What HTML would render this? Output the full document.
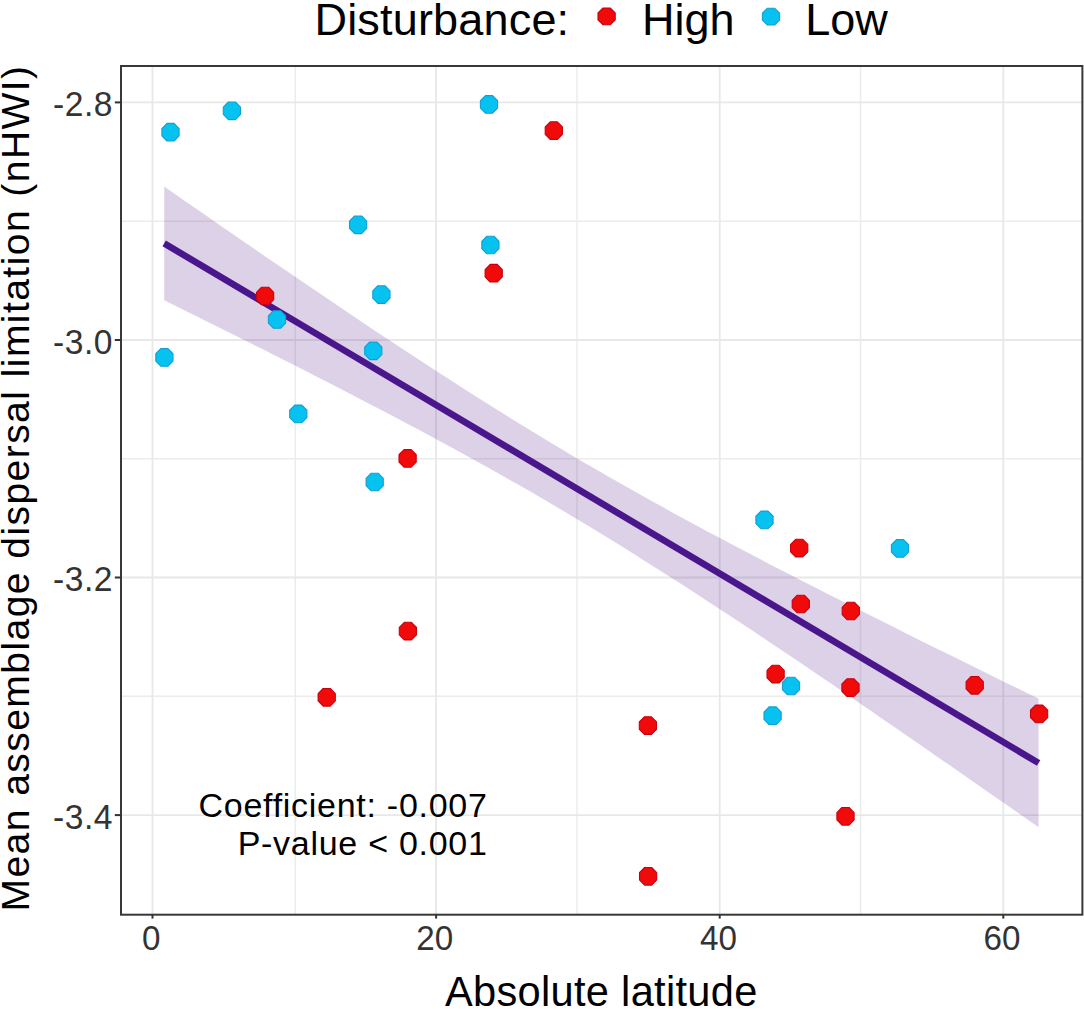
<!DOCTYPE html><html><head><meta charset="utf-8"><style>html,body{margin:0;padding:0;background:#fff;width:1084px;height:1009px;overflow:hidden}svg{display:block}text{font-family:"Liberation Sans",sans-serif}</style></head><body>
<svg width="1084" height="1009" viewBox="0 0 1084 1009">
<rect width="1084" height="1009" fill="#fff"/>
<line x1="295.3" y1="66" x2="295.3" y2="914.7" stroke="#ececec" stroke-width="1.5"/>
<line x1="577.0" y1="66" x2="577.0" y2="914.7" stroke="#ececec" stroke-width="1.5"/>
<line x1="860.5" y1="66" x2="860.5" y2="914.7" stroke="#ececec" stroke-width="1.5"/>
<line x1="121" y1="221.2" x2="1082.4" y2="221.2" stroke="#ececec" stroke-width="1.5"/>
<line x1="121" y1="458.8" x2="1082.4" y2="458.8" stroke="#ececec" stroke-width="1.5"/>
<line x1="121" y1="696.3" x2="1082.4" y2="696.3" stroke="#ececec" stroke-width="1.5"/>
<line x1="152.5" y1="66" x2="152.5" y2="914.7" stroke="#e8e8e8" stroke-width="1.8"/>
<line x1="436.1" y1="66" x2="436.1" y2="914.7" stroke="#e8e8e8" stroke-width="1.8"/>
<line x1="719.7" y1="66" x2="719.7" y2="914.7" stroke="#e8e8e8" stroke-width="1.8"/>
<line x1="1003.3" y1="66" x2="1003.3" y2="914.7" stroke="#e8e8e8" stroke-width="1.8"/>
<line x1="121" y1="102.4" x2="1082.4" y2="102.4" stroke="#e8e8e8" stroke-width="1.8"/>
<line x1="121" y1="340.0" x2="1082.4" y2="340.0" stroke="#e8e8e8" stroke-width="1.8"/>
<line x1="121" y1="577.5" x2="1082.4" y2="577.5" stroke="#e8e8e8" stroke-width="1.8"/>
<line x1="121" y1="815.1" x2="1082.4" y2="815.1" stroke="#e8e8e8" stroke-width="1.8"/>
<polygon points="164.2,186.6 175.3,194.3 186.3,201.9 197.4,209.6 208.5,217.3 219.5,224.9 230.6,232.6 241.7,240.2 252.7,247.8 263.8,255.4 274.9,263.0 286.0,270.6 297.0,278.1 308.1,285.6 319.2,293.1 330.2,300.6 341.3,308.1 352.4,315.5 363.4,323.0 374.5,330.4 385.6,337.7 396.6,345.0 407.7,352.3 418.8,359.6 429.8,366.8 440.9,374.0 452.0,381.1 463.0,388.2 474.1,395.3 485.2,402.3 496.3,409.2 507.3,416.1 518.4,423.0 529.5,429.8 540.5,436.5 551.6,443.2 562.7,449.8 573.7,456.4 584.8,462.9 595.9,469.3 606.9,475.7 618.0,482.0 629.1,488.3 640.1,494.5 651.2,500.7 662.3,506.8 673.3,512.9 684.4,518.9 695.5,524.9 706.5,530.9 717.6,536.8 728.7,542.7 739.8,548.5 750.8,554.3 761.9,560.1 773.0,565.9 784.0,571.6 795.1,577.3 806.2,582.9 817.2,588.6 828.3,594.2 839.4,599.8 850.4,605.4 861.5,611.0 872.6,616.6 883.6,622.1 894.7,627.6 905.8,633.2 916.8,638.7 927.9,644.2 939.0,649.7 950.1,655.1 961.1,660.6 972.2,666.0 983.3,671.5 994.3,676.9 1005.4,682.4 1016.5,687.8 1027.5,693.2 1038.6,698.6 1038.6,827.3 1027.5,819.6 1016.5,811.8 1005.4,804.1 994.3,796.4 983.3,788.7 972.2,781.0 961.1,773.3 950.1,765.6 939.0,757.9 927.9,750.2 916.8,742.6 905.8,734.9 894.7,727.3 883.6,719.7 872.6,712.1 861.5,704.5 850.4,696.9 839.4,689.3 828.3,681.8 817.2,674.3 806.2,666.8 795.1,659.3 784.0,651.8 773.0,644.4 761.9,637.0 750.8,629.6 739.8,622.3 728.7,615.0 717.6,607.7 706.5,600.5 695.5,593.3 684.4,586.1 673.3,579.0 662.3,571.9 651.2,564.9 640.1,557.9 629.1,551.0 618.0,544.1 606.9,537.3 595.9,530.5 584.8,523.8 573.7,517.2 562.7,510.6 551.6,504.0 540.5,497.6 529.5,491.1 518.4,484.8 507.3,478.5 496.3,472.2 485.2,466.0 474.1,459.9 463.0,453.8 452.0,447.7 440.9,441.7 429.8,435.7 418.8,429.8 407.7,423.9 396.6,418.0 385.6,412.2 374.5,406.4 363.4,400.7 352.4,394.9 341.3,389.2 330.2,383.5 319.2,377.9 308.1,372.2 297.0,366.6 286.0,361.0 274.9,355.4 263.8,349.8 252.7,344.3 241.7,338.7 230.6,333.2 219.5,327.7 208.5,322.2 197.4,316.7 186.3,311.2 175.3,305.8 164.2,300.3" fill="#551A8B" fill-opacity="0.2"/>
<line x1="164.2" y1="243.4" x2="1038.6" y2="763.0" stroke="#4a168c" stroke-width="6.6"/>
<polygon points="562.40,134.25 557.36,139.40 550.24,139.40 545.20,134.25 545.20,126.95 550.24,121.80 557.36,121.80 562.40,126.95" fill="#f00a0a" stroke="#c80010" stroke-width="1.1" stroke-linejoin="round"/>
<polygon points="502.30,276.85 497.26,282.00 490.14,282.00 485.10,276.85 485.10,269.55 490.14,264.40 497.26,264.40 502.30,269.55" fill="#f00a0a" stroke="#c80010" stroke-width="1.1" stroke-linejoin="round"/>
<polygon points="273.70,299.65 268.66,304.80 261.54,304.80 256.50,299.65 256.50,292.35 261.54,287.20 268.66,287.20 273.70,292.35" fill="#f00a0a" stroke="#c80010" stroke-width="1.1" stroke-linejoin="round"/>
<polygon points="416.20,462.05 411.16,467.20 404.04,467.20 399.00,462.05 399.00,454.75 404.04,449.60 411.16,449.60 416.20,454.75" fill="#f00a0a" stroke="#c80010" stroke-width="1.1" stroke-linejoin="round"/>
<polygon points="807.80,551.75 802.76,556.90 795.64,556.90 790.60,551.75 790.60,544.45 795.64,539.30 802.76,539.30 807.80,544.45" fill="#f00a0a" stroke="#c80010" stroke-width="1.1" stroke-linejoin="round"/>
<polygon points="809.40,607.65 804.36,612.80 797.24,612.80 792.20,607.65 792.20,600.35 797.24,595.20 804.36,595.20 809.40,600.35" fill="#f00a0a" stroke="#c80010" stroke-width="1.1" stroke-linejoin="round"/>
<polygon points="859.40,614.65 854.36,619.80 847.24,619.80 842.20,614.65 842.20,607.35 847.24,602.20 854.36,602.20 859.40,607.35" fill="#f00a0a" stroke="#c80010" stroke-width="1.1" stroke-linejoin="round"/>
<polygon points="416.50,634.75 411.46,639.90 404.34,639.90 399.30,634.75 399.30,627.45 404.34,622.30 411.46,622.30 416.50,627.45" fill="#f00a0a" stroke="#c80010" stroke-width="1.1" stroke-linejoin="round"/>
<polygon points="335.30,700.95 330.26,706.10 323.14,706.10 318.10,700.95 318.10,693.65 323.14,688.50 330.26,688.50 335.30,693.65" fill="#f00a0a" stroke="#c80010" stroke-width="1.1" stroke-linejoin="round"/>
<polygon points="784.20,677.75 779.16,682.90 772.04,682.90 767.00,677.75 767.00,670.45 772.04,665.30 779.16,665.30 784.20,670.45" fill="#f00a0a" stroke="#c80010" stroke-width="1.1" stroke-linejoin="round"/>
<polygon points="859.10,691.25 854.06,696.40 846.94,696.40 841.90,691.25 841.90,683.95 846.94,678.80 854.06,678.80 859.10,683.95" fill="#f00a0a" stroke="#c80010" stroke-width="1.1" stroke-linejoin="round"/>
<polygon points="983.30,688.95 978.26,694.10 971.14,694.10 966.10,688.95 966.10,681.65 971.14,676.50 978.26,676.50 983.30,681.65" fill="#f00a0a" stroke="#c80010" stroke-width="1.1" stroke-linejoin="round"/>
<polygon points="1047.70,717.55 1042.66,722.70 1035.54,722.70 1030.50,717.55 1030.50,710.25 1035.54,705.10 1042.66,705.10 1047.70,710.25" fill="#f00a0a" stroke="#c80010" stroke-width="1.1" stroke-linejoin="round"/>
<polygon points="656.50,729.25 651.46,734.40 644.34,734.40 639.30,729.25 639.30,721.95 644.34,716.80 651.46,716.80 656.50,721.95" fill="#f00a0a" stroke="#c80010" stroke-width="1.1" stroke-linejoin="round"/>
<polygon points="854.10,819.95 849.06,825.10 841.94,825.10 836.90,819.95 836.90,812.65 841.94,807.50 849.06,807.50 854.10,812.65" fill="#f00a0a" stroke="#c80010" stroke-width="1.1" stroke-linejoin="round"/>
<polygon points="656.70,879.95 651.66,885.10 644.54,885.10 639.50,879.95 639.50,872.65 644.54,867.50 651.66,867.50 656.70,872.65" fill="#f00a0a" stroke="#c80010" stroke-width="1.1" stroke-linejoin="round"/>
<polygon points="179.10,135.85 174.06,141.00 166.94,141.00 161.90,135.85 161.90,128.55 166.94,123.40 174.06,123.40 179.10,128.55" fill="#06c2f0" stroke="#159fd0" stroke-width="1.1" stroke-linejoin="round"/>
<polygon points="240.50,114.45 235.46,119.60 228.34,119.60 223.30,114.45 223.30,107.15 228.34,102.00 235.46,102.00 240.50,107.15" fill="#06c2f0" stroke="#159fd0" stroke-width="1.1" stroke-linejoin="round"/>
<polygon points="497.60,108.05 492.56,113.20 485.44,113.20 480.40,108.05 480.40,100.75 485.44,95.60 492.56,95.60 497.60,100.75" fill="#06c2f0" stroke="#159fd0" stroke-width="1.1" stroke-linejoin="round"/>
<polygon points="366.70,228.45 361.66,233.60 354.54,233.60 349.50,228.45 349.50,221.15 354.54,216.00 361.66,216.00 366.70,221.15" fill="#06c2f0" stroke="#159fd0" stroke-width="1.1" stroke-linejoin="round"/>
<polygon points="499.00,248.65 493.96,253.80 486.84,253.80 481.80,248.65 481.80,241.35 486.84,236.20 493.96,236.20 499.00,241.35" fill="#06c2f0" stroke="#159fd0" stroke-width="1.1" stroke-linejoin="round"/>
<polygon points="390.00,298.20 384.96,303.35 377.84,303.35 372.80,298.20 372.80,290.90 377.84,285.75 384.96,285.75 390.00,290.90" fill="#06c2f0" stroke="#159fd0" stroke-width="1.1" stroke-linejoin="round"/>
<polygon points="285.60,323.15 280.56,328.30 273.44,328.30 268.40,323.15 268.40,315.85 273.44,310.70 280.56,310.70 285.60,315.85" fill="#06c2f0" stroke="#159fd0" stroke-width="1.1" stroke-linejoin="round"/>
<polygon points="381.90,354.45 376.86,359.60 369.74,359.60 364.70,354.45 364.70,347.15 369.74,342.00 376.86,342.00 381.90,347.15" fill="#06c2f0" stroke="#159fd0" stroke-width="1.1" stroke-linejoin="round"/>
<polygon points="173.00,361.05 167.96,366.20 160.84,366.20 155.80,361.05 155.80,353.75 160.84,348.60 167.96,348.60 173.00,353.75" fill="#06c2f0" stroke="#159fd0" stroke-width="1.1" stroke-linejoin="round"/>
<polygon points="306.90,417.55 301.86,422.70 294.74,422.70 289.70,417.55 289.70,410.25 294.74,405.10 301.86,405.10 306.90,410.25" fill="#06c2f0" stroke="#159fd0" stroke-width="1.1" stroke-linejoin="round"/>
<polygon points="383.30,485.65 378.26,490.80 371.14,490.80 366.10,485.65 366.10,478.35 371.14,473.20 378.26,473.20 383.30,478.35" fill="#06c2f0" stroke="#159fd0" stroke-width="1.1" stroke-linejoin="round"/>
<polygon points="773.10,523.55 768.06,528.70 760.94,528.70 755.90,523.55 755.90,516.25 760.94,511.10 768.06,511.10 773.10,516.25" fill="#06c2f0" stroke="#159fd0" stroke-width="1.1" stroke-linejoin="round"/>
<polygon points="908.60,552.05 903.56,557.20 896.44,557.20 891.40,552.05 891.40,544.75 896.44,539.60 903.56,539.60 908.60,544.75" fill="#06c2f0" stroke="#159fd0" stroke-width="1.1" stroke-linejoin="round"/>
<polygon points="799.60,689.65 794.56,694.80 787.44,694.80 782.40,689.65 782.40,682.35 787.44,677.20 794.56,677.20 799.60,682.35" fill="#06c2f0" stroke="#159fd0" stroke-width="1.1" stroke-linejoin="round"/>
<polygon points="781.20,719.35 776.16,724.50 769.04,724.50 764.00,719.35 764.00,712.05 769.04,706.90 776.16,706.90 781.20,712.05" fill="#06c2f0" stroke="#159fd0" stroke-width="1.1" stroke-linejoin="round"/>
<text x="487.6" y="817.3" font-size="34" text-anchor="end" fill="#000" style="letter-spacing:0.72px">Coefficient: -0.007</text>
<text x="487.6" y="855.3" font-size="34" text-anchor="end" fill="#000" style="letter-spacing:0.72px">P-value &lt; 0.001</text>
<rect x="121" y="66" width="961.4" height="848.7" fill="none" stroke="#383838" stroke-width="2"/>
<line x1="114.8" y1="102.4" x2="121" y2="102.4" stroke="#333" stroke-width="2"/>
<line x1="114.8" y1="340.0" x2="121" y2="340.0" stroke="#333" stroke-width="2"/>
<line x1="114.8" y1="577.5" x2="121" y2="577.5" stroke="#333" stroke-width="2"/>
<line x1="114.8" y1="815.1" x2="121" y2="815.1" stroke="#333" stroke-width="2"/>
<line x1="152.5" y1="914.7" x2="152.5" y2="918.6" stroke="#333" stroke-width="2"/>
<line x1="436.1" y1="914.7" x2="436.1" y2="918.6" stroke="#333" stroke-width="2"/>
<line x1="719.7" y1="914.7" x2="719.7" y2="918.6" stroke="#333" stroke-width="2"/>
<line x1="1003.3" y1="914.7" x2="1003.3" y2="918.6" stroke="#333" stroke-width="2"/>
<text transform="translate(113.0,116.0) scale(1,1.04)" x="0" y="0" font-size="33.6" text-anchor="end" fill="#333333" style="letter-spacing:0.5px">-2.8</text>
<text transform="translate(113.0,353.6) scale(1,1.04)" x="0" y="0" font-size="33.6" text-anchor="end" fill="#333333" style="letter-spacing:0.5px">-3.0</text>
<text transform="translate(113.0,591.1) scale(1,1.04)" x="0" y="0" font-size="33.6" text-anchor="end" fill="#333333" style="letter-spacing:0.5px">-3.2</text>
<text transform="translate(113.0,828.7) scale(1,1.04)" x="0" y="0" font-size="33.6" text-anchor="end" fill="#333333" style="letter-spacing:0.5px">-3.4</text>
<text transform="translate(151.2,950.3) scale(0.957,1)" x="0" y="0" font-size="34.7" text-anchor="middle" fill="#333333">0</text>
<text transform="translate(434.8,950.3) scale(0.957,1)" x="0" y="0" font-size="34.7" text-anchor="middle" fill="#333333">20</text>
<text transform="translate(718.4,950.3) scale(0.957,1)" x="0" y="0" font-size="34.7" text-anchor="middle" fill="#333333">40</text>
<text transform="translate(1002.0,950.3) scale(0.957,1)" x="0" y="0" font-size="34.7" text-anchor="middle" fill="#333333">60</text>
<text x="601.3" y="1006" font-size="41.6" text-anchor="middle" fill="#000" style="letter-spacing:0.3px">Absolute latitude</text>
<text transform="translate(28.7,488.0) rotate(-90)" x="0" y="0" font-size="39" text-anchor="middle" fill="#000" style="letter-spacing:1.45px">Mean assemblage dispersal limitation (nHWI)</text>
<text x="314.5" y="35.2" font-size="45" fill="#000" style="letter-spacing:0.18px">Disturbance:</text>
<polygon points="615.20,19.88 610.16,24.80 603.04,24.80 598.00,19.88 598.00,12.92 603.04,8.00 610.16,8.00 615.20,12.92" fill="#f00a0a" stroke="#c80010" stroke-width="1.1" stroke-linejoin="round"/>
<text x="641.9" y="35.0" font-size="45" fill="#000">High</text>
<polygon points="779.60,20.08 774.56,25.00 767.44,25.00 762.40,20.08 762.40,13.12 767.44,8.20 774.56,8.20 779.60,13.12" fill="#06c2f0" stroke="#159fd0" stroke-width="1.1" stroke-linejoin="round"/>
<text x="805.2" y="35.0" font-size="45" fill="#000">Low</text>
</svg></body></html>
